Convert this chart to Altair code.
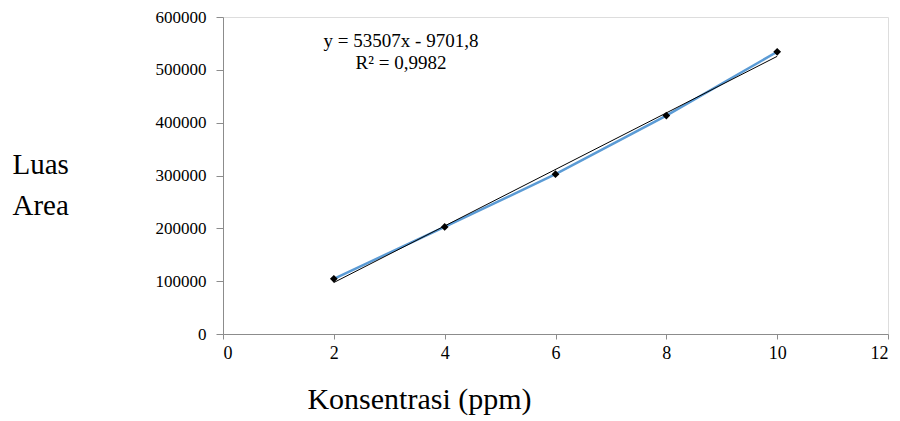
import altair as alt
import pandas as pd

konsentrasi = [2, 4, 6, 8, 10]
luas_area = [104500, 202700, 302500, 413500, 534200]
x_ticks = [0, 2, 4, 6, 8, 10, 12]
y_ticks = [0, 100000, 200000, 300000, 400000, 500000, 600000]
equation_lines = ["y = 53507x - 9701,8", "R² = 0,9982"]

df = pd.DataFrame({"x": konsentrasi, "y": luas_area})

FONT = "Liberation Serif"
GRAY = "#8c8c8c"

x_enc = alt.X(
    "x:Q",
    scale=alt.Scale(domain=[0, 12], nice=False, zero=False),
    axis=alt.Axis(
        values=x_ticks, format="d", title="Konsentrasi (ppm)", grid=False,
        domainColor=GRAY, tickColor=GRAY, tickSize=5, labelPadding=5,
        labelFont=FONT, labelFontSize=18, labelColor="black",
        titleFont=FONT, titleFontSize=30, titleFontWeight="normal",
        titleColor="black", titleX=196, titleY=74, titleBaseline="alphabetic",
        titleAnchor="middle", titleAlign="center",
    ),
)
y_enc = alt.Y(
    "y:Q",
    scale=alt.Scale(domain=[0, 600000], nice=False),
    axis=alt.Axis(
        values=y_ticks, format="d", title=["Luas", "Area"], grid=False,
        domainColor=GRAY, tickColor=GRAY, tickSize=7, labelPadding=10,
        labelFont=FONT, labelFontSize=17, labelColor="black",
        titleFont=FONT, titleFontSize=29, titleFontWeight="normal",
        titleColor="black", titleAngle=0, titleAlign="left",
        titleBaseline="alphabetic", titleX=-211, titleY=156, titleLineHeight=41,
    ),
)

base = alt.Chart(df)

series = base.mark_line(color="#5B9BD5", strokeWidth=2.5).encode(x=x_enc, y=y_enc)
trend = base.transform_regression("x", "y", extent=[2, 10]).mark_line(
    color="black", strokeWidth=1
).encode(x="x:Q", y="y:Q")
points = base.mark_point(shape="diamond", filled=True, color="black", size=60, opacity=1).encode(
    x="x:Q", y="y:Q"
)

eq1 = alt.Chart(pd.DataFrame({"t": [equation_lines[0]]})).mark_text(
    font=FONT, fontSize=19, color="black", align="center", baseline="alphabetic"
).encode(text="t:N", x=alt.value(178), y=alt.value(30))
eq2 = alt.Chart(pd.DataFrame({"t": [equation_lines[1]]})).mark_text(
    font=FONT, fontSize=19, color="black", align="center", baseline="alphabetic"
).encode(text="t:N", x=alt.value(178), y=alt.value(52))

chart = alt.layer(series, trend, points, eq1, eq2).properties(
    width=665, height=317,
    autosize=alt.AutoSizeParams(type="none"),
    padding={"left": 215, "top": 9, "right": 4, "bottom": 87},
).configure_view(stroke=None).configure(background="white")

chart.save("out.html", embed_options={"renderer": "svg", "actions": False})
